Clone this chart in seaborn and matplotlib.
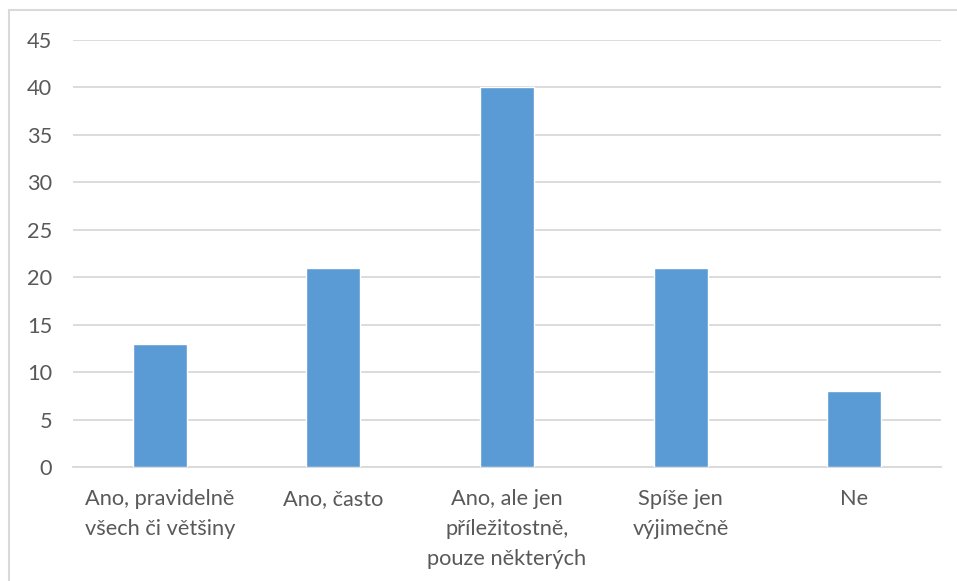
import matplotlib
matplotlib.use("Agg")
import matplotlib.pyplot as plt
import seaborn as sns
import pandas as pd
from matplotlib.patches import Rectangle

categories = [
    "Ano, pravidelně\nvšech či většiny",
    "Ano, často",
    "Ano, ale jen\npříležitostně,\npouze některých",
    "Spíše jen\nvýjimečně",
    "Ne",
]
values = [13, 21, 40, 21, 8]
yticks = [0, 5, 10, 15, 20, 25, 30, 35, 40, 45]

df = pd.DataFrame({"kategorie": categories, "hodnota": values})

sns.set_theme(style="white")
plt.rcParams["font.family"] = ["Lato", "DejaVu Sans"]

fig = plt.figure(figsize=(9.57, 5.81), dpi=100)
ax = fig.add_axes([73 / 957, 1 - 467 / 581, (941 - 73) / 957, (467 - 40) / 581])

sns.barplot(data=df, x="kategorie", y="hodnota", color="#5B9BD5",
            width=0.31, saturation=1, ax=ax, zorder=3)

ax.set_ylim(0, 45)
ax.set_yticks(yticks)
ax.set_xlim(-0.5, len(categories) - 0.5)
ax.yaxis.grid(True, color="#D9D9D9", linewidth=1.3, zorder=0)
ax.xaxis.grid(False)
ax.set_axisbelow(True)
for s in ["top", "right", "left"]:
    ax.spines[s].set_visible(False)
ax.spines["bottom"].set_color("#D9D9D9")
ax.spines["bottom"].set_linewidth(1.3)
ax.set_xlabel("")
ax.set_ylabel("")
ax.tick_params(axis="both", length=0, colors="#595959", labelsize=15.7)
ax.tick_params(axis="y", pad=15)
ax.tick_params(axis="x", pad=16)
for lbl in ax.get_xticklabels():
    lbl.set_linespacing(1.62)
    lbl.set_ha("center")

# chart frame
fig.patches.append(Rectangle((9 / 957, -0.1), 1.2, 1 - 10 / 581 + 0.1,
                             transform=fig.transFigure, fill=False,
                             edgecolor="#D9D9D9", linewidth=1.5))

fig.savefig("out.png", dpi=100)
